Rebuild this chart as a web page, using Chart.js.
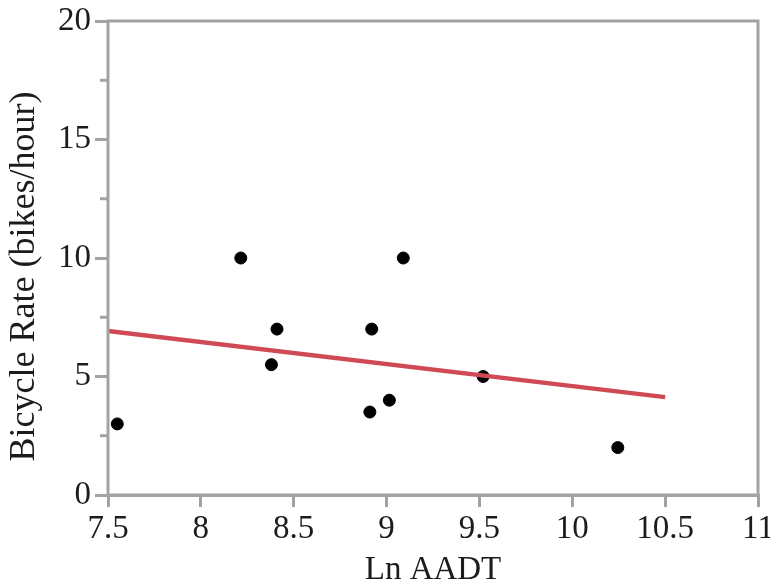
<!DOCTYPE html>
<html>
<head>
<meta charset="utf-8">
<script src="https://cdn.jsdelivr.net/npm/chart.js@4/dist/chart.umd.min.js"></script>
<style>
  html, body { margin: 0; padding: 0; background: #ffffff; }
  #wrap { width: 770px; height: 586px; }
</style>
</head>
<body>
<div id="wrap"><canvas id="c" width="770" height="586"></canvas></div>
<script>
// Observed points
const lnAADT = [7.55, 8.215, 8.41, 8.38, 8.92, 8.91, 9.015, 9.09, 9.52, 10.245];
const bikeRate = [3, 10, 7, 5.5, 7, 3.5, 4, 10, 5, 2];
// Fitted trend line (end points as drawn)
const fitX = [7.5, 10.5];
const fitY = [6.92, 4.13];
// Axis settings
const xMin = 7.5, xMax = 11, xStep = 0.5;
const yMin = 0, yMax = 20, yStep = 5;
const yMinorTicks = [2.5, 7.5, 12.5, 17.5];

const AXIS = '#a3a3a3';
const TEXT = '#1c1c1c';
const SERIF = '"Liberation Serif", "Times New Roman", serif';

const framePlugin = {
  id: 'frame',
  afterLayout(chart) {
    // the y-axis title sits lower than the axis middle in the original
    chart.scales.y.top += 37;
  },
  afterDraw(chart) {
    const { ctx, chartArea: a, scales } = chart;
    ctx.save();
    ctx.strokeStyle = AXIS;
    ctx.lineWidth = 3;
    ctx.strokeRect(a.left, a.top, a.right - a.left, a.bottom - a.top);
    ctx.beginPath();
    yMinorTicks.forEach(v => {
      const py = scales.y.getPixelForValue(v);
      ctx.moveTo(a.left - 8, py);
      ctx.lineTo(a.left, py);
    });
    ctx.stroke();
    ctx.restore();
  }
};

const fitPoints = fitX.map((x, i) => ({ x, y: fitY[i] }));
const scatterPoints = lnAADT.map((x, i) => ({ x, y: bikeRate[i] }));
const fmt = v => String(Math.round(v * 10) / 10);

new Chart(document.getElementById('c'), {
  type: 'scatter',
  data: {
    datasets: [
      {
        type: 'line',
        label: 'Fit',
        data: fitPoints,
        borderColor: '#d04a55',
        borderWidth: 4.5,
        pointRadius: 0,
        fill: false,
        tension: 0
      },
      {
        label: 'Bicycle Rate',
        data: scatterPoints,
        backgroundColor: '#000000',
        borderColor: '#000000',
        pointRadius: 6,
        pointHoverRadius: 6
      }
    ]
  },
  plugins: [framePlugin],
  options: {
    responsive: false,
    animation: false,
    devicePixelRatio: 1,
    layout: { padding: { top: 21, right: 12, left: 0, bottom: 0 } },
    plugins: { legend: { display: false }, tooltip: { enabled: false } },
    scales: {
      x: {
        type: 'linear',
        min: xMin, max: xMax,
        ticks: {
          stepSize: xStep,
          color: TEXT,
          font: { family: SERIF, size: 33 },
          padding: 3,
          maxRotation: 0,
          autoSkip: false,
          callback: v => fmt(v)
        },
        grid: { drawOnChartArea: false, drawTicks: true, tickLength: 12, color: AXIS, lineWidth: 3 },
        border: { display: true, color: AXIS, width: 3 },
        title: {
          display: true, text: 'Ln AADT', color: TEXT,
          font: { family: SERIF, size: 33, lineHeight: 1 },
          padding: { top: 0, bottom: -1 }
        },
        afterFit(s) { s.height = 91; s.paddingLeft = 0; s.paddingRight = 0; s.paddingTop = 0; s.paddingBottom = 0; }
      },
      y: {
        type: 'linear',
        min: yMin, max: yMax,
        ticks: {
          stepSize: yStep,
          color: TEXT,
          font: { family: SERIF, size: 33 },
          padding: 4,
          callback: v => fmt(v)
        },
        grid: { drawOnChartArea: false, drawTicks: true, tickLength: 13, color: AXIS, lineWidth: 3 },
        border: { display: false },
        title: {
          display: true, text: 'Bicycle Rate (bikes/hour)', color: TEXT,
          font: { family: SERIF, size: 36, lineHeight: 1 },
          padding: { top: 7, bottom: 0 }
        },
        afterFit(s) { s.width = 108; s.paddingLeft = 0; s.paddingRight = 0; s.paddingTop = 0; s.paddingBottom = 0; }
      }
    }
  }
});
</script>
</body>
</html>
